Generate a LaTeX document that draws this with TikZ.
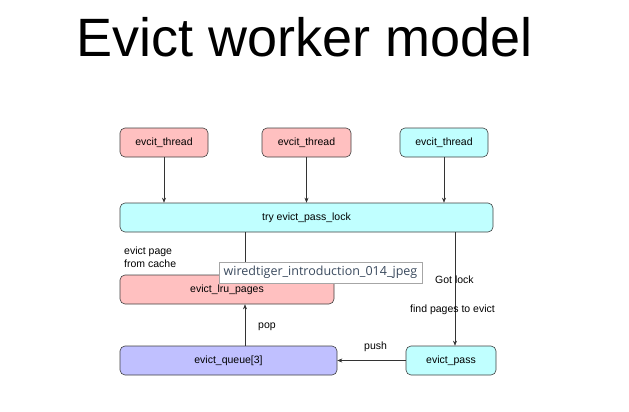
\documentclass[tikz,border=0pt]{standalone}
\usepackage{fontspec}
\setmainfont{Liberation Sans}
\newfontfamily\tipfont{Open Sans}
\usetikzlibrary{arrows.meta}
\definecolor{pinkbox}{HTML}{FFC0C0}
\definecolor{cyanbox}{HTML}{C0FFFF}
\definecolor{bluebox}{HTML}{C0C0FF}
\definecolor{tiptext}{HTML}{3A4A5E}
\begin{document}
\begin{tikzpicture}[x=1pt,y=-1pt,
  box/.style={draw=black!75,line width=0.6pt,rounded corners=5pt,font=\fontsize{10.5}{12}\selectfont,inner sep=0pt},
  arr/.style={-{Stealth[length=5pt,width=4pt]},line width=0.5pt,draw=black!80},
  lbl/.style={font=\fontsize{10.5}{12.5}\selectfont,inner sep=0pt}]
\useasboundingbox (0,0) rectangle (629,412);
\node[font=\fontsize{54}{60}\selectfont] (title) at (305,37) {Evict worker model};
\node[box,fill=pinkbox,minimum width=88pt,minimum height=29pt] (t1) at (164,142.5) {evcit\_thread};
\node[box,fill=pinkbox,minimum width=89pt,minimum height=29pt] (t2) at (306.5,142.5) {evcit\_thread};
\node[box,fill=cyanbox,minimum width=88pt,minimum height=29pt] (t3) at (444,142.5) {evcit\_thread};
\node[box,fill=cyanbox,minimum width=373pt,minimum height=29pt] (lock) at (306.5,217.5) {try evict\_pass\_lock};
\node[box,fill=pinkbox,minimum width=214pt,minimum height=29pt] (lru) at (227,289.5) {evict\_lru\_pages};
\node[box,fill=bluebox,minimum width=217pt,minimum height=29pt] (queue) at (228.5,360.5) {evict\_queue[3]};
\node[box,fill=cyanbox,minimum width=90pt,minimum height=29pt] (pass) at (451,360.5) {evict\_pass};
\draw[arr] (t1) -- (t1|-lock.north);
\draw[arr] (t2) -- (t2|-lock.north);
\draw[arr] (t3) -- (t3|-lock.north);
\coordinate (a) at (245,0);
\coordinate (b) at (455,0);
\draw[line width=0.5pt,draw=black!80] (a|-lock.south) -- (a|-lru.north);
\draw[arr] (b|-lock.south) -- (b|-pass.north);
\draw[arr] (pass.west) -- (queue.east);
\draw[arr] (a|-queue.north) -- (a|-lru.south);
\node[lbl,align=left,anchor=north west] (evp) at (124,247) {evict page\\from cache};
\node[lbl,anchor=west] (got) at (435,280) {Got lock};
\node[lbl,anchor=west] (find) at (410,310) {find pages to evict};
\node[lbl,anchor=west] (pop) at (258,327) {pop};
\node[lbl,anchor=west] (push) at (364,347) {push};
\node[draw=black!35,fill=white,line width=0.6pt,minimum width=203pt,minimum height=21pt,inner sep=0pt,font=\tipfont\fontsize{12.5}{14}\selectfont,text=tiptext] (tip) at (320.5,272.5) {wiredtiger\_introduction\_014\_jpeg};
\end{tikzpicture}
\end{document}
